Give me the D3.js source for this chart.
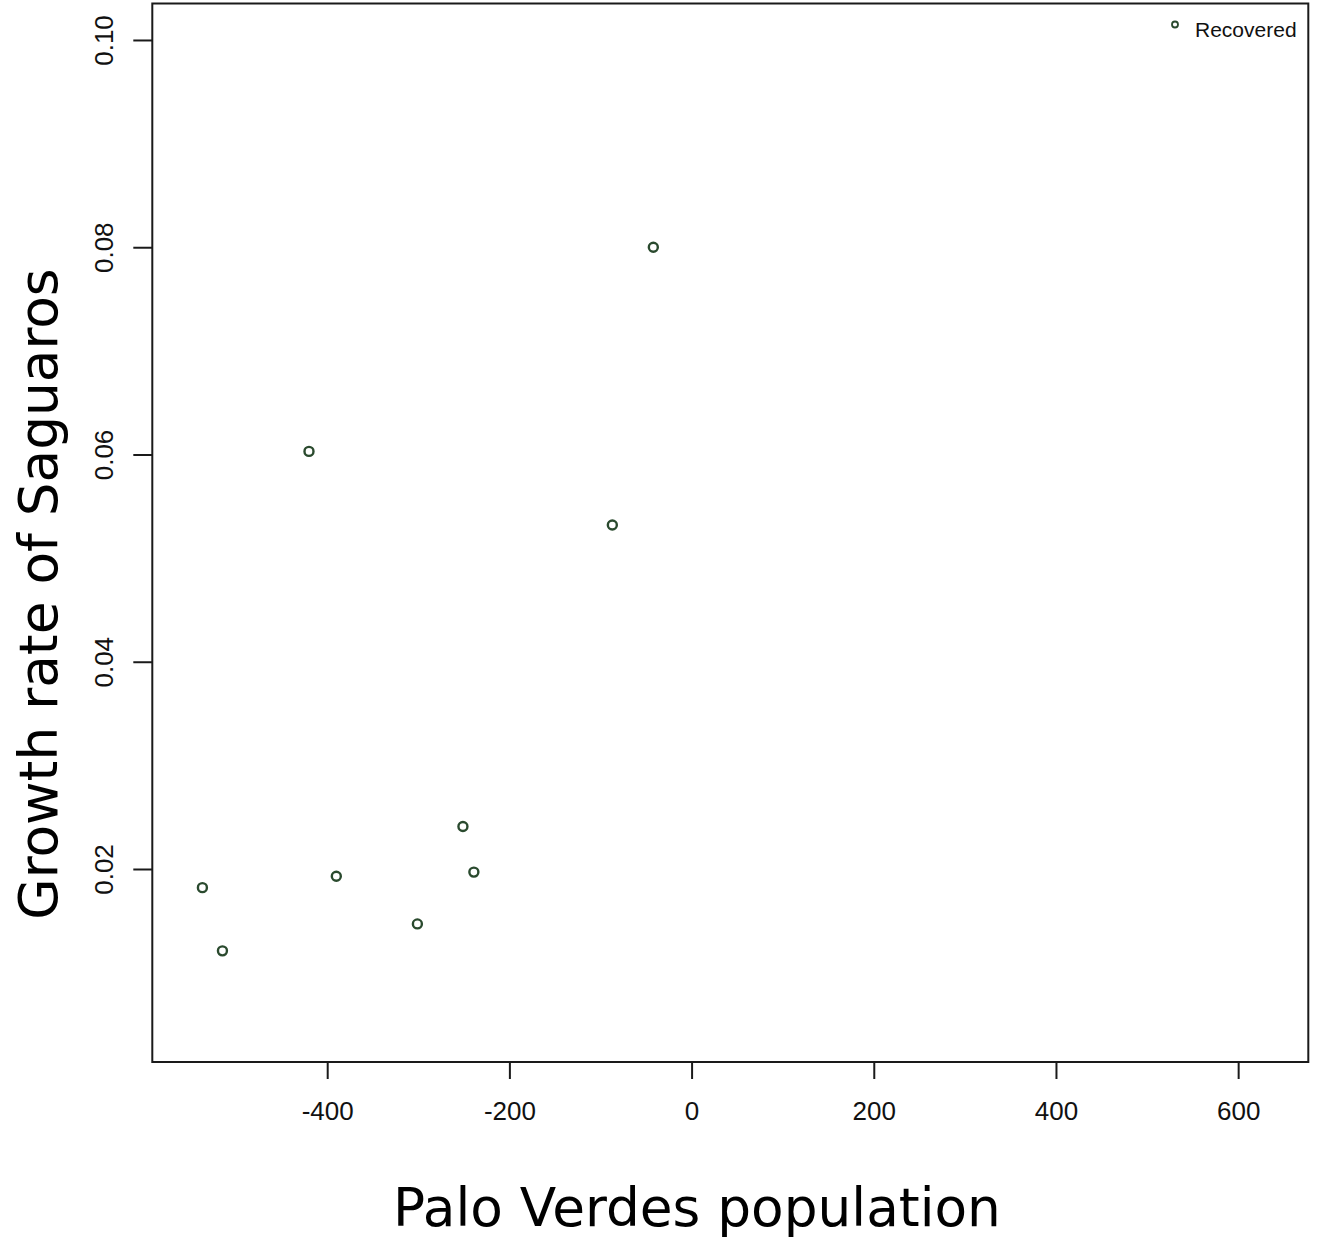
<!DOCTYPE html>
<html>
<head>
<meta charset="utf-8">
<script src="https://cdn.jsdelivr.net/npm/d3@7"></script>
<style>
  html, body { margin: 0; padding: 0; background: #fff; }
  svg { display: block; }
</style>
</head>
<body>
<svg id="chart" width="1320" height="1239"></svg>
<script>
// Palo Verdes population vs. saguaro growth rate (recovered plots)
const paloVerdes = [-537, -515, -420, -390, -301, -251, -239, -87, -42];
const growthRate = [0.0182, 0.0121, 0.0603, 0.0193, 0.0147, 0.0241, 0.0197, 0.0532, 0.0800];
const xTicks = [-400, -200, 0, 200, 400, 600];
const yTicks = [0.02, 0.04, 0.06, 0.08, 0.10];
const seriesName = "Recovered";

const svg = d3.select("#chart");
const frame = { left: 152.3, right: 1308.3, top: 3.5, bottom: 1062 };

const x = d3.scaleLinear().domain([-592, 677]).range([frame.left, frame.right]);
const y = d3.scaleLinear().domain([0.001375, 0.10352]).range([frame.bottom, frame.top]);

const ink = "#1a1a1a";
const pointColor = "#2a4a2e";

// plot box
svg.append("rect")
  .attr("x", frame.left).attr("y", frame.top)
  .attr("width", frame.right - frame.left).attr("height", frame.bottom - frame.top)
  .attr("fill", "none").attr("stroke", ink).attr("stroke-width", 2);

// x axis
const xAxis = svg.append("g")
  .attr("transform", `translate(0,${frame.bottom})`)
  .call(d3.axisBottom(x).tickValues(xTicks).tickSize(17).tickPadding(23).tickFormat(d3.format("d")));
xAxis.select(".domain").remove();
xAxis.selectAll(".tick line").attr("stroke", ink).attr("stroke-width", 2);
xAxis.selectAll(".tick text")
  .attr("fill", "#111")
  .style("font-family", "'Liberation Sans', Arial, sans-serif")
  .style("font-size", "26px")
  .text(d => d3.format("d")(d).replace("−", "-"));

// y axis
const yAxis = svg.append("g")
  .attr("transform", `translate(${frame.left},0)`)
  .call(d3.axisLeft(y).tickValues(yTicks).tickSize(19).tickFormat(d3.format(".2f")));
yAxis.select(".domain").remove();
yAxis.selectAll(".tick line").attr("stroke", ink).attr("stroke-width", 2);
yAxis.selectAll(".tick text")
  .attr("fill", "#111")
  .attr("x", 0).attr("dy", 0)
  .attr("text-anchor", "middle")
  .attr("transform", "translate(-39,0) rotate(-90)")
  .style("font-family", "'Liberation Sans', Arial, sans-serif")
  .style("font-size", "26px");

// data points
svg.append("g")
  .selectAll("circle")
  .data(paloVerdes.map((v, i) => [v, growthRate[i]]))
  .join("circle")
  .attr("cx", d => x(d[0]))
  .attr("cy", d => y(d[1]))
  .attr("r", 4.5)
  .attr("fill", "none")
  .attr("stroke", pointColor)
  .attr("stroke-width", 2.4);

// legend
const legend = svg.append("g");
legend.append("circle")
  .attr("cx", 1175).attr("cy", 24.5).attr("r", 3)
  .attr("fill", "none").attr("stroke", pointColor).attr("stroke-width", 1.8);
legend.append("text")
  .attr("x", 1195).attr("y", 37)
  .attr("fill", "#111")
  .style("font-family", "'Liberation Sans', Arial, sans-serif")
  .style("font-size", "21px")
  .text(seriesName);

// axis titles
svg.append("text")
  .attr("x", 697).attr("y", 1226)
  .attr("text-anchor", "middle")
  .attr("fill", "#000")
  .style("font-family", "'DejaVu Sans', sans-serif")
  .style("font-size", "53.3px")
  .text("Palo Verdes population");

svg.append("text")
  .attr("transform", "translate(57,594) rotate(-90)")
  .attr("text-anchor", "middle")
  .attr("fill", "#000")
  .style("font-family", "'DejaVu Sans', sans-serif")
  .style("font-size", "53.3px")
  .text("Growth rate of Saguaros");
</script>
</body>
</html>
